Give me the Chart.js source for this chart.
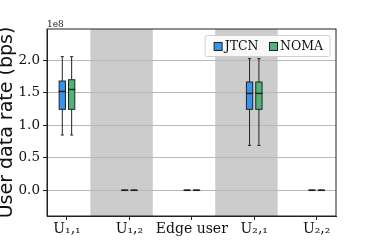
<!DOCTYPE html>
<html>
<head>
<meta charset="utf-8">
<script src="https://cdn.jsdelivr.net/npm/chart.js@4.4.0/dist/chart.umd.min.js"></script>
<style>
  html, body { margin: 0; padding: 0; background: #fff; }
  #wrap { width: 374px; height: 249px; }
</style>
</head>
<body>
<div id="wrap"><canvas id="myChart" width="374" height="249"></canvas></div>
<script>
// users on the x axis
const users = ['U\u2081,\u2081', 'U\u2081,\u2082', 'Edge user', 'U\u2082,\u2081', 'U\u2082,\u2082'];
const yTicks = [0, 0.5e8, 1.0e8, 1.5e8, 2.0e8];

// shaded column spans (x values)
const bandFrom = [0.375, 2.375];
const bandTo = [1.375, 3.375];

// box stats in bps
const jtcnMin = [0.85e8, 0, 0, 0.69e8, 0];
const jtcnQ1 = [1.245e8, 0, 0, 1.245e8, 0];
const jtcnMed = [1.52e8, 0, 0, 1.49e8, 0];
const jtcnQ3 = [1.68e8, 0, 0, 1.665e8, 0];
const jtcnMax = [2.055e8, 0, 0, 2.025e8, 0];

const nomaMin = [0.85e8, 0, 0, 0.69e8, 0];
const nomaQ1 = [1.245e8, 0, 0, 1.245e8, 0];
const nomaMed = [1.55e8, 0, 0, 1.49e8, 0];
const nomaQ3 = [1.70e8, 0, 0, 1.665e8, 0];
const nomaMax = [2.055e8, 0, 0, 2.025e8, 0];

const shift = 0.075;
const serif = '"DejaVu Serif", serif';

function boxData(q1, q3, dx) {
    return users.map((u, i) => ({ x: i + dx, y: [q1[i], q3[i]] }));
}

const stats = [
    { min: jtcnMin, med: jtcnMed, max: jtcnMax },
    { min: nomaMin, med: nomaMed, max: nomaMax }
];

const bandsPlugin = {
    id: 'bands',
    beforeDraw(chart) {
        const { ctx, chartArea, scales } = chart;
        ctx.save();
        ctx.fillStyle = '#cccccc';
        for (let i = 0; i < bandFrom.length; i++) {
            const x0 = scales.x.getPixelForValue(bandFrom[i]);
            const x1 = scales.x.getPixelForValue(bandTo[i]);
            ctx.fillRect(x0, chartArea.top, x1 - x0, chartArea.bottom - chartArea.top);
        }
        ctx.restore();
    }
};

const whiskerPlugin = {
    id: 'whiskers',
    afterDatasetsDraw(chart) {
        const { ctx, scales } = chart;
        const y = scales.y;
        ctx.save();
        ctx.strokeStyle = '#222';
        chart.data.datasets.forEach((ds, d) => {
            const meta = chart.getDatasetMeta(d);
            const s = stats[d];
            meta.data.forEach((bar, i) => {
                const x = bar.x, w = bar.width;
                const lo = y.getPixelForValue(ds.data[i].y[0]);
                const hi = y.getPixelForValue(ds.data[i].y[1]);
                const yMin = y.getPixelForValue(s.min[i]);
                const yMax = y.getPixelForValue(s.max[i]);
                const yMed = y.getPixelForValue(s.med[i]);
                ctx.lineWidth = 1;
                ctx.beginPath();
                ctx.moveTo(x, lo); ctx.lineTo(x, yMin);
                ctx.moveTo(x, hi); ctx.lineTo(x, yMax);
                ctx.moveTo(x - w / 4, yMin); ctx.lineTo(x + w / 4, yMin);
                ctx.moveTo(x - w / 4, yMax); ctx.lineTo(x + w / 4, yMax);
                ctx.stroke();
                // box outline
                ctx.strokeRect(x - w / 2, hi, w, lo - hi);
                ctx.lineWidth = 1.5;
                ctx.beginPath();
                ctx.moveTo(x - w / 2 - 0.5, yMed); ctx.lineTo(x + w / 2 + 0.5, yMed);
                ctx.stroke();
            });
        });
        ctx.restore();
    }
};

const decorPlugin = {
    id: 'decor',
    afterDraw(chart) {
        const { ctx, chartArea } = chart;
        ctx.save();
        // frame
        ctx.strokeStyle = '#222';
        ctx.lineWidth = 1;
        ctx.strokeRect(chartArea.left, chartArea.top, chartArea.right - chartArea.left, chartArea.bottom - chartArea.top);

        // offset text
        ctx.fillStyle = '#222';
        ctx.font = '9px ' + serif;
        ctx.textAlign = 'left';
        ctx.textBaseline = 'alphabetic';
        ctx.fillText('1e8', chartArea.left, chartArea.top - 2.5);

        // legend
        ctx.font = '12.5px ' + serif;
        const items = chart.data.datasets.map(ds => ({ label: ds.label, color: ds.backgroundColor, w: ctx.measureText(ds.label).width }));
        const patch = 8;
        let width = 9 + 7;
        items.forEach((it, k) => { width += patch + 2.5 + it.w + (k < items.length - 1 ? 11 : 0); });
        const fr = chartArea.right - 6;
        const fl = fr - width;
        const ft = chartArea.top + 6.5;
        const fh = 21;
        ctx.fillStyle = 'rgba(255,255,255,0.85)';
        ctx.strokeStyle = '#d0d0d0';
        ctx.beginPath();
        ctx.roundRect(fl, ft, width, fh, 2);
        ctx.fill();
        ctx.stroke();
        let x = fl + 9;
        const cy = ft + fh / 2 + 0.5;
        items.forEach(it => {
            ctx.fillStyle = it.color;
            ctx.fillRect(x, cy - patch / 2, patch, patch);
            ctx.strokeStyle = '#222';
            ctx.strokeRect(x, cy - patch / 2, patch, patch);
            ctx.fillStyle = '#111';
            ctx.textBaseline = 'middle';
            ctx.fillText(it.label, x + patch + 2.5, cy);
            x += patch + 2.5 + it.w + 11;
        });

        // y title
        ctx.translate(12, (chartArea.top + chartArea.bottom) / 2);
        ctx.rotate(-Math.PI / 2);
        ctx.font = '19px "DejaVu Sans", sans-serif';
        ctx.fillStyle = '#111';
        ctx.textAlign = 'center';
        ctx.textBaseline = 'alphabetic';
        ctx.fillText('User data rate (bps)', 0, 0);
        ctx.restore();
    }
};

const ctx = document.getElementById('myChart').getContext('2d');

const myChart = new Chart(ctx, {
    type: 'bar',
    data: {
        datasets: [{
            label: 'JTCN',
            data: boxData(jtcnQ1, jtcnQ3, -shift),
            backgroundColor: '#3893ee'
        }, {
            label: 'NOMA',
            data: boxData(nomaQ1, nomaQ3, shift),
            backgroundColor: '#4fb477'
        }]
    },
    options: {
        responsive: false,
        animation: false,
        grouped: false,
        categoryPercentage: 1,
        barPercentage: 0.67,
        borderWidth: 0,
        layout: { padding: { top: 29, right: 38, left: 0, bottom: 0 } },
        plugins: {
            legend: { display: false },
            tooltip: { enabled: false }
        },
        scales: {
            x: {
                type: 'linear',
                offset: false,
                min: -0.32,
                max: 4.31,
                afterBuildTicks: (s) => { s.ticks = users.map((u, i) => ({ value: i })); },
                afterFit: (s) => { s.height = 33; },
                grid: { offset: false, drawOnChartArea: false, drawTicks: true, tickLength: 4, tickColor: '#222' },
                border: { color: '#222' },
                ticks: {
                    autoSkip: false,
                    maxRotation: 0,
                    padding: 1,
                    color: '#111',
                    font: { family: serif, size: 14 },
                    callback: (v) => users[v]
                }
            },
            y: {
                min: -0.395e8,
                max: 2.48e8,
                afterBuildTicks: (s) => { s.ticks = yTicks.map(v => ({ value: v })); },
                afterFit: (s) => { s.width = 47; },
                grid: { color: '#b8b8b8', lineWidth: 1, tickLength: 4, tickColor: '#222' },
                border: { color: '#222' },
                ticks: {
                    padding: 3,
                    color: '#111',
                    font: { family: serif, size: 13.5 },
                    callback: (v) => (v / 1e8).toFixed(1)
                }
            }
        }
    },
    plugins: [bandsPlugin, whiskerPlugin, decorPlugin]
});
</script>
</body>
</html>
